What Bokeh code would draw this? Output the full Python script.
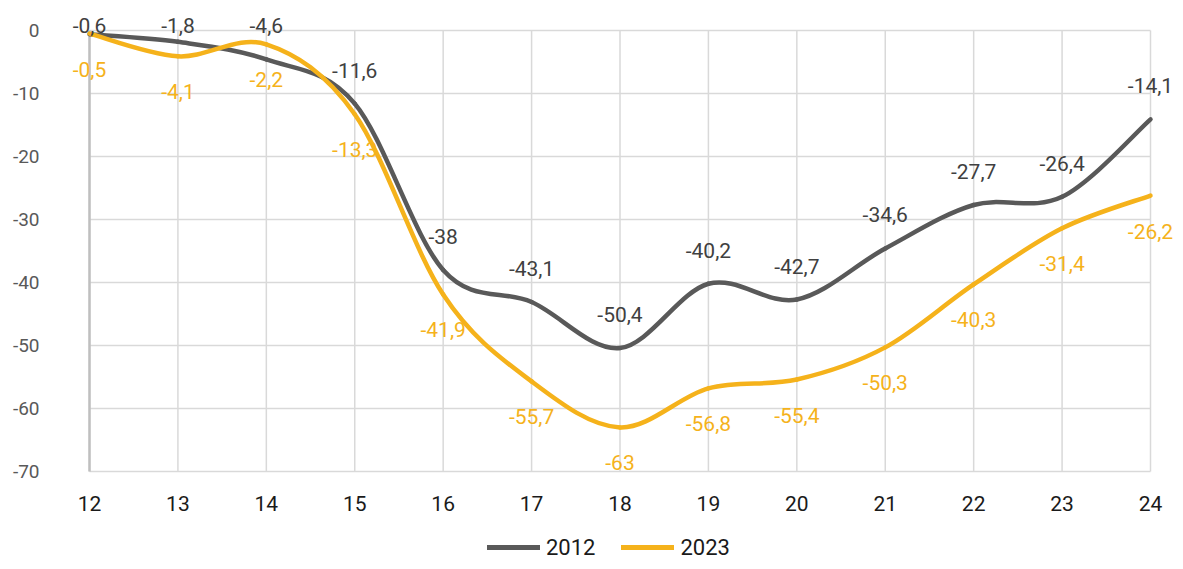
from bokeh.plotting import figure
from bokeh.layouts import column
from bokeh.models import (ColumnDataSource, LabelSet, Range1d, FixedTicker,
                          Legend, LegendItem)
from bokeh.core.properties import value
from bokeh.embed import file_html
from bokeh.resources import INLINE

# ---- data ----
hours = [12, 13, 14, 15, 16, 17, 18, 19, 20, 21, 22, 23, 24]
values_2012 = [-0.6, -1.8, -4.6, -11.6, -38, -43.1, -50.4, -40.2, -42.7, -34.6, -27.7, -26.4, -14.1]
values_2023 = [-0.5, -4.1, -2.2, -13.3, -41.9, -55.7, -63, -56.8, -55.4, -50.3, -40.3, -31.4, -26.2]
series_names = ["2012", "2023"]
y_ticks = [0, -10, -20, -30, -40, -50, -60, -70]
y_tick_labels = ["0", "-10", "-20", "-30", "-40", "-50", "-60", "-70"]
x_tick_labels = [str(h) for h in hours]

GRAY = "#595959"
GOLD = "#F5B21B"
GRID = "#d9d9d9"
FONT = "Roboto"

# ---- layout (pixels) ----
W = 1175
H_MAIN, H_LEG = 533, 28
FRAME_L, FRAME_R, FRAME_T, FRAME_B = 58, W, 6, 482   # frame edges on canvas
X_LO_PX, X_HI_PX = 89, 1150                # where first / last hour sit
Y_TOP_PX, Y_BOT_PX = 30, 471               # where 0 / -70 sit

xmin, xmax = hours[0], hours[-1]
ymin, ymax = min(y_ticks), max(y_ticks)
sx = (X_HI_PX - X_LO_PX) / (xmax - xmin)
sy = (Y_BOT_PX - Y_TOP_PX) / (ymax - ymin)
x_start = xmin - (X_LO_PX - FRAME_L) / sx
x_end = xmax + (FRAME_R - X_HI_PX) / sx
y_end = ymax + (Y_TOP_PX - FRAME_T) / sy
y_start = ymin - (FRAME_B - Y_BOT_PX) / sy


def smooth_segments(x, y):
    """Bezier control points for a smoothed line through the points."""
    n = len(x)
    d = dict(x0=[], y0=[], x1=[], y1=[], cx0=[], cy0=[], cx1=[], cy1=[])
    for i in range(n - 1):
        pm = max(i - 1, 0)
        pp = min(i + 2, n - 1)
        d["x0"].append(x[i]); d["y0"].append(y[i])
        d["x1"].append(x[i + 1]); d["y1"].append(y[i + 1])
        d["cx0"].append(x[i] + (x[i + 1] - x[pm]) / 6)
        d["cy0"].append(y[i] + (y[i + 1] - y[pm]) / 6)
        d["cx1"].append(x[i + 1] - (x[pp] - x[i]) / 6)
        d["cy1"].append(y[i + 1] - (y[pp] - y[i]) / 6)
    return ColumnDataSource(d)


def fmt(v):
    return f"{v:g}".replace(".", ",")


p = figure(width=W, height=H_MAIN, output_backend="svg", toolbar_location=None,
           x_range=Range1d(x_start, x_end), y_range=Range1d(y_start, y_end),
           min_border_left=FRAME_L, min_border_top=FRAME_T,
           min_border_bottom=H_MAIN - FRAME_B, min_border_right=W - FRAME_R)
p.outline_line_color = None
p.background_fill_color = "white"
p.border_fill_color = "white"
p.xgrid.visible = False
p.ygrid.visible = False

# grid lines limited to the data area (the -70 line doubles as the x axis line)
p.segment(x0=hours, x1=hours, y0=[ymin] * len(hours), y1=[ymax] * len(hours),
          line_color=GRID, line_width=1.5)
p.segment(x0=[xmin] * len(y_ticks), x1=[xmax] * len(y_ticks), y0=y_ticks,
          y1=y_ticks, line_color=GRID, line_width=1.5)
# vertical axis line at the first hour
p.segment(x0=[xmin], x1=[xmin], y0=[ymin], y1=[ymax],
          line_color="#bfbfbf", line_width=2.5)

# axes
p.xaxis.ticker = FixedTicker(ticks=hours)
p.xaxis.major_label_overrides = {h: lab for h, lab in zip(hours, x_tick_labels)}
p.xaxis.axis_line_color = None
p.xaxis.major_tick_line_color = None
p.xaxis.minor_tick_line_color = None
p.xaxis.major_label_standoff = 18 - (FRAME_B - Y_BOT_PX)
p.xaxis.major_label_text_font = FONT
p.xaxis.major_label_text_font_size = "21px"
p.xaxis.major_label_text_color = "#1a1a1a"

p.yaxis.ticker = FixedTicker(ticks=y_ticks)
p.yaxis.major_label_overrides = {t: lab for t, lab in zip(y_ticks, y_tick_labels)}
p.yaxis.axis_line_color = None
p.yaxis.major_tick_line_color = None
p.yaxis.minor_tick_line_color = None
p.yaxis.major_label_standoff = 13
p.yaxis.major_label_text_font = FONT
p.yaxis.major_label_text_font_size = "19px"
p.yaxis.major_label_text_color = GRAY

# smoothed lines
src12 = smooth_segments(hours, values_2012)
src23 = smooth_segments(hours, values_2023)
p.bezier(x0="x0", y0="y0", x1="x1", y1="y1", cx0="cx0", cy0="cy0",
         cx1="cx1", cy1="cy1", source=src12, line_color=GRAY,
         line_width=4.5, line_cap="round")
p.bezier(x0="x0", y0="y0", x1="x1", y1="y1", cx0="cx0", cy0="cy0",
         cx1="cx1", cy1="cy1", source=src23, line_color=GOLD,
         line_width=4.5, line_cap="round")

# data labels
off_up = 26 / sy
off_dn = 28 / sy
lab12 = ColumnDataSource(dict(
    x=hours,
    y=[min(v + off_up, -0.4) for v in values_2012],
    t=[fmt(v) for v in values_2012]))
lab23 = ColumnDataSource(dict(
    x=hours,
    y=[v - off_dn for v in values_2023],
    t=[fmt(v) for v in values_2023]))
p.add_layout(LabelSet(x="x", y="y", text="t", source=lab12,
                      text_align="center", text_baseline="bottom",
                      text_font=value(FONT), text_font_size=value("21px"),
                      text_color="#404040"))
p.add_layout(LabelSet(x="x", y="y", text="t", source=lab23,
                      text_align="center", text_baseline="top",
                      text_font=value(FONT), text_font_size=value("21px"),
                      text_color=GOLD))

# ---- legend strip (its frame is aligned with the chart's frame) ----
pl = figure(width=W, height=H_LEG, output_backend="svg", toolbar_location=None,
            x_range=Range1d(0, 1), y_range=Range1d(0, 1), min_border=0)
pl.axis.visible = False
pl.grid.visible = False
pl.outline_line_color = None
k12 = pl.line(x=hours, y=values_2012, line_color=GRAY, line_width=5,
              line_cap="round")
k23 = pl.line(x=hours, y=values_2023, line_color=GOLD, line_width=5,
              line_cap="round")
legend = Legend(items=[LegendItem(label=series_names[0], renderers=[k12]),
                       LegendItem(label=series_names[1], renderers=[k23])],
                orientation="horizontal", location=(487 - FRAME_L, 0),
                glyph_width=53, glyph_height=H_LEG, label_height=H_LEG,
                label_standoff=6, spacing=26, padding=0, margin=0,
                label_text_font=FONT, label_text_font_size="22px",
                label_text_color="#1a1a1a", border_line_color=None,
                background_fill_alpha=0)
pl.add_layout(legend, "center")

layout = column(p, pl, spacing=0)
open("out.html", "w").write(file_html(layout, INLINE))
